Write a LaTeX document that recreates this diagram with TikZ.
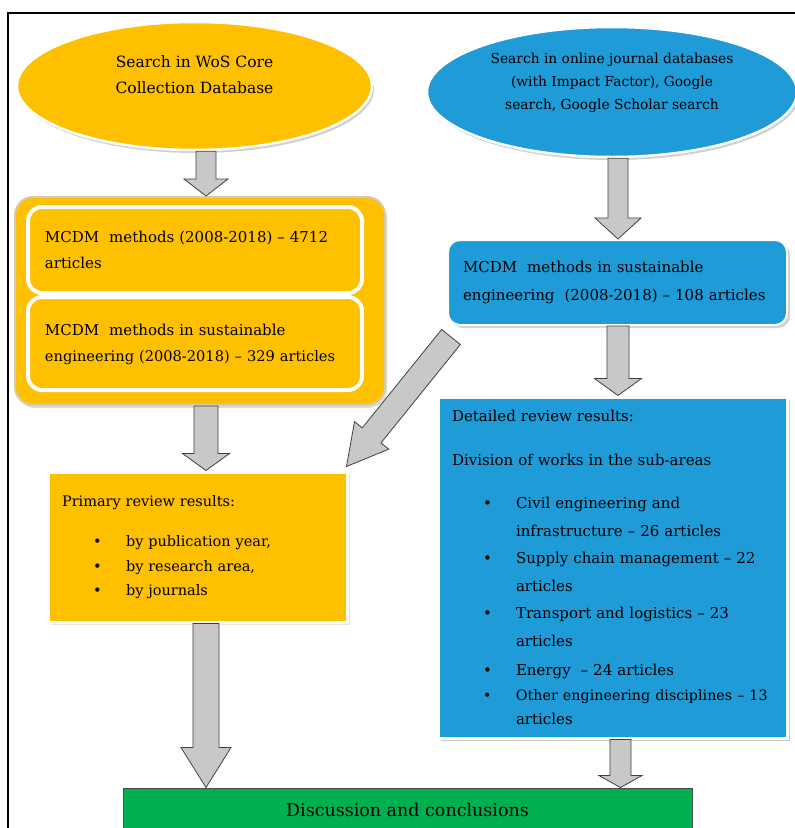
\documentclass[tikz,border=0pt]{standalone}
\usepackage{fontspec}
\setmainfont{DejaVu Serif}
\usetikzlibrary{calc,positioning,shapes.geometric,shadows}

\definecolor{wosorange}{HTML}{FFC000}
\definecolor{dbblue}{HTML}{1F9BD7}
\definecolor{endgreen}{HTML}{00B050}
\definecolor{arrowgray}{HTML}{C8C8C8}
\definecolor{rimtan}{HTML}{D8CCA8}

% bullet line and its continuation
\newcommand{\bitem}[1]{\hspace*{31pt}\makebox[33pt][l]{\textbullet}#1}
\newcommand{\bcont}[1]{\hspace*{64pt}#1}

% block arrow: from, to, half shaft, half head, head length
\newcommand{\blockarrow}[5]{%
  \coordinate (ba-s) at (#1);
  \coordinate (ba-t) at (#2);
  \coordinate (ba-h) at ($(ba-t)!#5!(ba-s)$);
  \draw[garrow] ($(ba-s)!#3!90:(ba-t)$) -- ($(ba-h)!#3!90:(ba-t)$)
    -- ($(ba-h)!#4!90:(ba-t)$) -- (ba-t) -- ($(ba-h)!#4!-90:(ba-t)$)
    -- ($(ba-h)!#3!-90:(ba-t)$) -- ($(ba-s)!#3!-90:(ba-t)$) -- cycle;
}

\begin{document}
\begin{tikzpicture}[x=1pt,y=-1pt,
  garrow/.style={fill=arrowgray,draw=black!75,line width=0.8pt,line join=miter},
  oval/.style={ellipse,line width=2.5pt,drop shadow={shadow xshift=2pt,shadow yshift=-3pt,fill=black!30,opacity=.6}},
  inbox/.style={rectangle,rounded corners=14pt,fill=wosorange,draw=white,line width=4pt,
    text width=300pt,align=left,font=\fontsize{15}{26}\selectfont},
  plainbox/.style={rectangle,draw=white,line width=3pt,align=left}]
\useasboundingbox (0,0) rectangle (795,828);
\fill[white] (0,0) rectangle (795,828);

% frame
\draw[line width=1.3pt] (8,840) -- (8,13) -- (805,13);

% the two searches
\node[oval,fill=wosorange,draw=white,minimum width=355pt,minimum height=128pt] (wos) at (194.5,86) {};
\node[align=center,font=\fontsize{15.5}{26}\selectfont] (wostext) at ([yshift=11pt]wos.center)
  {Search in WoS Core\\Collection Database};
\node[oval,fill=dbblue,draw=white,minimum width=370pt,minimum height=130pt] (db) at (612,92) {};
\node[align=center,font=\fontsize{13.8}{23}\selectfont] (dbtext) at ([yshift=9pt]db.center)
  {Search in online journal databases\\(with Impact Factor), Google\\search, Google Scholar search};

% WoS results
\node[rectangle,rounded corners=18pt,fill=wosorange,draw=rimtan,line width=2pt,
  minimum width=370pt,minimum height=208pt,
  drop shadow={shadow xshift=2pt,shadow yshift=-3pt,fill=black!25,opacity=.5}] (wosbox) at (200,301) {};
\node[inbox,minimum width=334pt,minimum height=86pt] (m1) at (195,250)
  {MCDM~ methods (2008-2018) -- 4712\\articles};
\node[inbox,minimum width=334pt,minimum height=93pt] (m2) at (195,343.5)
  {\rule{0pt}{14pt}MCDM~ methods in sustainable\\
   \mbox{\fontsize{14.6}{26}\selectfont engineering (2008-2018) -- 329 articles}};

% online results
\node[rectangle,rounded corners=12pt,fill=dbblue,draw=white,line width=2pt,
  minimum width=339pt,minimum height=85pt,text width=309pt,align=left,
  font=\fontsize{15}{28}\selectfont,
  drop shadow={shadow xshift=3pt,shadow yshift=-3pt,fill=black!35,opacity=.5}] (rev1) at (617.5,282.5)
  {MCDM~ methods in sustainable\\engineering~ (2008-2018) -- 108 articles};

% primary review
\node[plainbox,fill=wosorange,minimum width=299pt,minimum height=150pt,text width=271pt,
  font=\fontsize{14.5}{24.5}\selectfont,
  drop shadow={shadow xshift=3pt,shadow yshift=-3pt,fill=rimtan}] (prim) at (197.5,547)
  {Primary review results:\\[16pt]
   \bitem{by publication year,}\\
   \bitem{by research area,}\\
   \bitem{by journals}\\[6pt]};

% detailed review
\node[plainbox,fill=dbblue,minimum width=349pt,minimum height=341pt,text width=321pt,
  font=\fontsize{15}{27.5}\selectfont,
  drop shadow={shadow xshift=3pt,shadow yshift=-3pt,fill=black!30,opacity=.7}] (det) at (612.5,567.5)
  {Detailed review results:\\[16.5pt]
   Division of works in the sub-areas\\[15.5pt]
   \bitem{Civil engineering and}\\
   \bcont{infrastructure -- 26 articles}\\
   \bitem{Supply chain management -- 22}\\
   \bcont{articles}\\
   \bitem{Transport and logistics -- 23}\\
   \bcont{articles}\\[1.5pt]
   \bitem{Energy~ -- 24 articles}\\[-2.5pt]
   {\fontsize{14.3}{27.5}\selectfont\bitem{Other engineering disciplines -- 13}}\\[-3.5pt]
   \bcont{articles}};

% conclusion
\node[rectangle,fill=endgreen,draw=black!70,line width=1pt,minimum width=569pt,minimum height=44pt,
  font=\fontsize{17.5}{20}\selectfont] (disc) at (407.5,810) {Discussion and conclusions};

% arrow columns
\coordinate (lcol) at (206,0);
\coordinate (rcol) at (618,0);
\coordinate (rcol2) at (620.5,0);

% arrows
\blockarrow{wos.south -| lcol}{wosbox.north -| lcol}{10pt}{22pt}{17pt}
\blockarrow{wosbox.south -| lcol}{prim.north -| lcol}{12pt}{23.5pt}{17pt}
\blockarrow{prim.south -| lcol}{disc.north -| lcol}{13pt}{25pt}{40pt}
\blockarrow{db.south -| rcol}{rev1.north -| rcol}{10pt}{23pt}{21pt}
\blockarrow{rev1.south -| rcol}{det.north -| rcol}{11pt}{23.5pt}{17pt}
\blockarrow{det.south -| rcol2}{disc.north -| rcol2}{10.5pt}{21.5pt}{12pt}
\blockarrow{[xshift=4pt,yshift=-11pt]rev1.south west}{[xshift=-2pt,yshift=4pt]prim.north east}{12pt}{22pt}{40pt}
\end{tikzpicture}
\end{document}
